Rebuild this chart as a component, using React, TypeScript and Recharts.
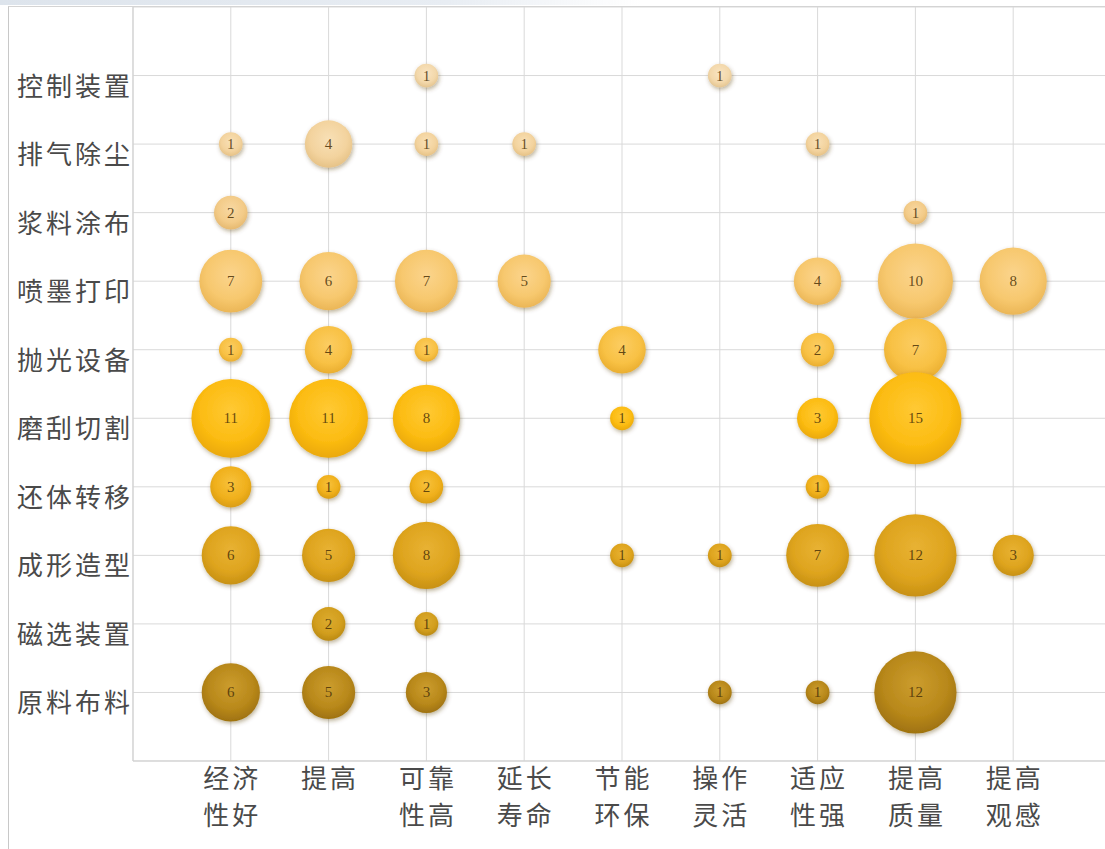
import React from 'react';
import { ScatterChart, Scatter, XAxis, YAxis, ZAxis, CartesianGrid } from 'recharts';

// X categories (benefits), two-line labels
const xLabels: string[][] = [
  ['经济', '性好'],
  ['提高'],
  ['可靠', '性高'],
  ['延长', '寿命'],
  ['节能', '环保'],
  ['操作', '灵活'],
  ['适应', '性强'],
  ['提高', '质量'],
  ['提高', '观感'],
];

// Y categories, bottom to top
const yLabels: string[] = [
  '原料布料',
  '磁选装置',
  '成形造型',
  '还体转移',
  '磨刮切割',
  '抛光设备',
  '喷墨打印',
  '浆料涂布',
  '排气除尘',
  '控制装置',
];

// Values per row, in xLabels order (0 = no bubble)
const rawFeed = [6, 5, 3, 0, 0, 1, 1, 12, 0];
const magSep = [0, 2, 1, 0, 0, 0, 0, 0, 0];
const forming = [6, 5, 8, 0, 1, 1, 7, 12, 3];
const transfer = [3, 1, 2, 0, 0, 0, 1, 0, 0];
const cutting = [11, 11, 8, 0, 1, 0, 3, 15, 0];
const polishing = [1, 4, 1, 0, 4, 0, 2, 7, 0];
const inkjet = [7, 6, 7, 5, 0, 0, 4, 10, 8];
const coating = [2, 0, 0, 0, 0, 0, 0, 1, 0];
const dust = [1, 4, 1, 1, 0, 0, 1, 0, 0];
const control = [0, 0, 1, 0, 0, 1, 0, 0, 0];

const rows = [rawFeed, magSep, forming, transfer, cutting, polishing, inkjet, coating, dust, control];

// Colours per row (bottom to top): [light centre, base, dark edge]
const rowColors: string[][] = [
  ['#cc9d2e', '#b8881a', '#9f7210'],
  ['#dcab2e', '#d29e1e', '#bb8a12'],
  ['#e8b233', '#dea41e', '#c89113'],
  ['#f7c13a', '#f0b01c', '#da9d12'],
  ['#ffc934', '#fcbc12', '#eba908'],
  ['#fccd62', '#f8c144', '#eaae30'],
  ['#fbd48c', '#f7c86e', '#ebb656'],
  ['#f8d8a2', '#f3cb88', '#e6b970'],
  ['#f8e0b6', '#f3d39e', '#e6c286'],
  ['#f9e4c2', '#f3d8ab', '#e4c590'],
];

const FONT = '"Noto Sans CJK SC", "Noto Sans", sans-serif';

const buildPoints = (vals: number[], rowIdx: number) =>
  vals
    .map((v, i) => ({ x: i + 1, y: rowIdx + 1, v }))
    .filter((p) => p.v > 0);

const Bubble = (props: any) => {
  const { cx, cy, width, payload, gid } = props;
  if (cx == null || cy == null) return null;
  const r = width / 2;
  return (
    <g>
      <circle cx={cx} cy={cy} r={r} fill={`url(#${gid})`} filter="url(#bshadow)" />
      <text
        x={cx}
        y={cy + 5}
        textAnchor="middle"
        fontSize={15}
        fontFamily='"Liberation Serif", serif'
        fill="#4a3208"
        fillOpacity={0.85}
      >
        {payload.v}
      </text>
    </g>
  );
};

const YTick = (props: any) => {
  const { x, y, payload } = props;
  const label = yLabels[Math.round(payload.value) - 1];
  if (!label) return null;
  return (
    <text
      x={x}
      y={y + 20}
      textAnchor="end"
      fontSize={26}
      letterSpacing={3}
      fontFamily={FONT}
      fill="#4a4a4a"
    >
      {label}
    </text>
  );
};

const XTick = (props: any) => {
  const { x, y, payload } = props;
  const lines = xLabels[Math.round(payload.value) - 1];
  if (!lines) return null;
  return (
    <text textAnchor="middle" fontSize={26} letterSpacing={3} fontFamily={FONT} fill="#4a4a4a">
      {lines.map((l, i) => (
        <tspan key={i} x={x + 1.5} y={y + 27 + i * 37}>
          {l}
        </tspan>
      ))}
    </text>
  );
};

export default function App() {
  return (
    <>
      <div
        style={{
          position: 'fixed',
          top: 0,
          left: 0,
          width: 640,
          height: 5,
          background: 'linear-gradient(to right, #dde4ec, #e8edf3 70%, rgba(255,255,255,0))',
        }}
      />
      <div
        style={{
          position: 'fixed',
          top: 6,
          left: 8,
          width: 1097,
          height: 843,
          borderLeft: '1px solid #c8c8c8',
          borderTop: '1px solid #d4d4d4',
          overflow: 'hidden',
          background: '#fff',
        }}
      >
        <ScatterChart width={1102} height={842} margin={{ top: 0, right: 0, bottom: 0, left: 0 }}>
          <defs>
            <filter id="bshadow" x="-30%" y="-30%" width="160%" height="160%">
              <feDropShadow dx="1" dy="2" stdDeviation="2" floodColor="#5a3c00" floodOpacity="0.4" />
            </filter>
            {rowColors.map((c, i) => (
              <radialGradient key={i} id={`g${i}`} cx="50%" cy="40%" r="60%">
                <stop offset="0%" stopColor={c[0]} />
                <stop offset="65%" stopColor={c[1]} />
                <stop offset="100%" stopColor={c[2]} />
              </radialGradient>
            ))}
          </defs>
          <CartesianGrid stroke="#d9d9d9" strokeWidth={1} />
          <XAxis
            type="number"
            dataKey="x"
            domain={[0, 10]}
            ticks={[1, 2, 3, 4, 5, 6, 7, 8, 9]}
            interval={0}
            height={88}
            tickLine={false}
            tickSize={0}
            tickMargin={0}
            axisLine={{ stroke: '#cfcfcf' }}
            tick={<XTick />}
            allowDataOverflow
          />
          <YAxis
            type="number"
            dataKey="y"
            domain={[0, 11]}
            ticks={[1, 2, 3, 4, 5, 6, 7, 8, 9, 10]}
            interval={0}
            width={124}
            tickLine={false}
            tickSize={0}
            tickMargin={0}
            axisLine={{ stroke: '#cfcfcf' }}
            tick={<YTick />}
            allowDataOverflow
          />
          <ZAxis type="number" dataKey="v" domain={[0, 15]} range={[0, Math.PI * 46 * 46]} />
          {rows
            .map((vals, idx) => ({ vals, idx }))
            .reverse()
            .map(({ vals, idx }) => (
              <Scatter
                key={idx}
                name={yLabels[idx]}
                data={buildPoints(vals, idx)}
                isAnimationActive={false}
                shape={(p: any) => <Bubble {...p} gid={`g${idx}`} />}
              />
            ))}
        </ScatterChart>
      </div>
    </>
  );
}
